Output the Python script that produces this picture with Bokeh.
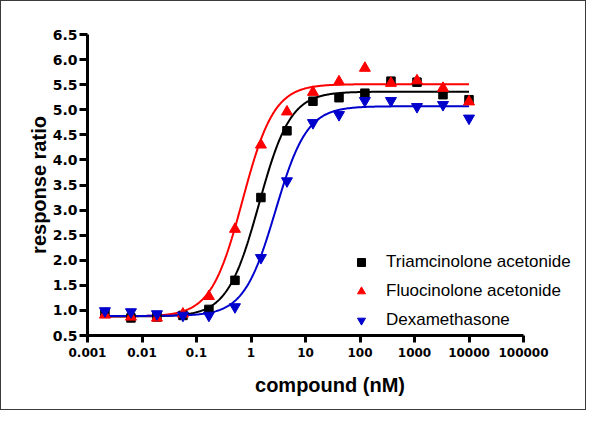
import numpy as np
from bokeh.plotting import figure
from bokeh.models import Range1d, FixedTicker, Legend, LegendItem, Title
from bokeh.embed import file_html
from bokeh.resources import INLINE

# ---- data ----
conc = [0.00209, 0.00627, 0.0188, 0.0564, 0.169, 0.508, 1.52, 4.57,
        13.7, 41.2, 123, 370, 1111, 3333, 10000]
triamcinolone = [0.95, 0.85, 0.87, 0.90, 1.02, 1.60, 3.25, 4.58,
                 5.17, 5.24, 5.33, 5.57, 5.55, 5.30, 5.20]
fluocinolone = [0.91, 0.87, 0.85, 0.93, 1.28, 2.62, 4.30, 4.96,
                5.35, 5.56, 5.83, 5.53, 5.58, 5.43, 5.16]
dexamethasone = [0.99, 0.97, 0.93, 0.90, 0.90, 1.07, 2.05, 3.58,
                 4.74, 4.90, 5.18, 5.18, 5.06, 5.10, 4.83]

names = ["Triamcinolone acetonide", "Fluocinolone acetonide", "Dexamethasone"]
colors = ["black", "#FF0000", "#0000CC"]
markers = ["square", "triangle", "inverted_triangle"]

# fitted sigmoid (4PL) parameters
fit_bottom = [0.88, 0.88, 0.89]
fit_top = [5.36, 5.51, 5.07]
fit_ec50 = [1.4, 0.7, 2.8]
fit_hill = [1.5, 1.5, 1.5]

x_ticks = [0.001, 0.01, 0.1, 1, 10, 100, 1000, 10000, 100000]
x_tick_labels = ["0.001", "0.01", "0.1", "1", "10", "100", "1000", "10000", "100000"]
y_ticks = [0.5, 1.0, 1.5, 2.0, 2.5, 3.0, 3.5, 4.0, 4.5, 5.0, 5.5, 6.0, 6.5]
y_tick_labels = ["0.5", "1.0", "1.5", "2.0", "2.5", "3.0", "3.5", "4.0",
                 "4.5", "5.0", "5.5", "6.0", "6.5"]

# layout: the axis spans 0.001..100000 over 436 px; the frame is widened
# to the right so the legend text is not clipped
axis_w = 436
frame_w = 485
decade_px = axis_w / 8
x_end = 10 ** (-3 + frame_w / decade_px)

p = figure(width=586, height=410, x_axis_type="log",
           x_range=Range1d(0.001, x_end), y_range=Range1d(0.5, 6.5),
           output_backend="svg", toolbar_location=None,
           min_border_left=86, min_border_right=586 - 86 - frame_w,
           min_border_top=33, min_border_bottom=76)
p.styles = {"border": "1px solid #3a3a3a"}
p.background_fill_color = "white"
p.border_fill_color = "white"
p.outline_line_color = None
p.grid.visible = False

for ax in (p.xaxis[0], p.yaxis[0]):
    ax.axis_line_width = 3
    ax.major_tick_line_width = 3
    ax.major_tick_in = 0
    ax.minor_tick_line_color = None
    ax.major_label_text_font = "DejaVu Sans"
    ax.major_label_text_font_style = "bold"
    ax.axis_label_text_font = "Liberation Sans"
    ax.axis_label_text_font_style = "bold"
    ax.axis_label_text_font_size = "20px"
    ax.axis_label_text_color = "black"
    ax.major_label_text_color = "black"

p.xaxis.ticker = FixedTicker(ticks=x_ticks)
p.xaxis.bounds = (x_ticks[0], x_ticks[-1])
p.xaxis.major_label_overrides = dict(zip(x_ticks, x_tick_labels))
p.xaxis.major_tick_out = 7
p.xaxis.major_label_standoff = 5
p.xaxis.major_label_text_font_size = "12px"

p.yaxis.ticker = FixedTicker(ticks=y_ticks)
p.yaxis.major_label_overrides = dict(zip(y_ticks, y_tick_labels))
p.yaxis.major_tick_out = 8
p.yaxis.major_label_standoff = 2
p.yaxis.major_label_text_font_size = "14px"
p.yaxis.axis_label = "response ratio"
p.yaxis.axis_label_standoff = 0

# x-axis title centred under the axis (not under the widened frame)
xtitle = Title(text="compound (nM)", align="center",
               offset=-(frame_w - axis_w) / 2, standoff=24,
               text_font="Liberation Sans", text_font_size="20px",
               text_font_style="bold", text_color="black")
p.add_layout(xtitle, "below")

xc = np.logspace(np.log10(conc[0]), np.log10(conc[-1]), 400)
series = [triamcinolone, fluocinolone, dexamethasone]
items = []
for i in range(3):
    yc = fit_bottom[i] + (fit_top[i] - fit_bottom[i]) / (1 + (fit_ec50[i] / xc) ** fit_hill[i])
    p.line(xc, yc, line_color=colors[i], line_width=2)
for i in range(3):
    size = 8.5 if markers[i] == "square" else 11
    r = p.scatter(conc, series[i], marker=markers[i], size=size,
                  fill_color=colors[i], line_color=colors[i])
    items.append(LegendItem(label=names[i], renderers=[r]))

legend = Legend(items=items, location=(264, 5),
                glyph_width=20, glyph_height=20, label_height=20,
                label_standoff=15, spacing=9, padding=0, margin=0,
                border_line_color=None, background_fill_alpha=0,
                label_text_font="Liberation Sans", label_text_font_size="17px",
                label_text_color="black")
p.add_layout(legend)

open("out.html", "w").write(file_html(p, INLINE))
